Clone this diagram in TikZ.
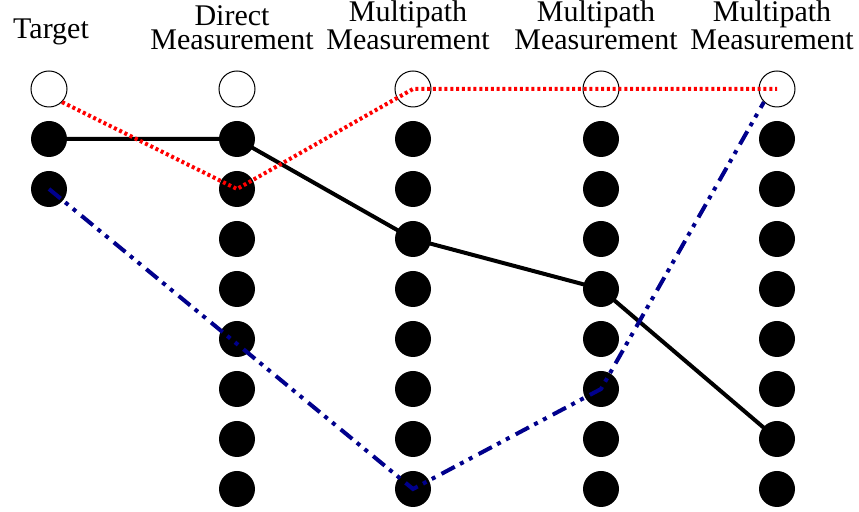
\documentclass[tikz,border=0pt]{standalone}
\usepackage{fontspec}
\setmainfont{Liberation Serif}
\usepackage{xcolor}
\usepackage{tikz}
\usetikzlibrary{shapes}

\begin{document}
\begin{tikzpicture}[x=0.5pt,y=-0.5pt]
    \definecolor{myred}{RGB}{255,0,0}
    \definecolor{mynavy}{RGB}{0,0,140}

    \fontsize{15pt}{12pt}\selectfont  % 字体大小
    \tikzstyle{openpt}=[circle,draw,line width=0.5pt,fill=white,minimum size=18pt,inner sep=0pt]  % 空心圆
    \tikzstyle{fullpt}=[circle,fill=black,minimum size=18pt,inner sep=0pt]  % 实心圆
    \tikzstyle{title}=[align=center,inner sep=0pt,anchor=south]  % 列标题
    \tikzstyle{trueline}=[line width=2pt,black,line join=round]
    \tikzstyle{redline}=[line width=2pt,myred,dash pattern=on 1.5pt off 1.4pt]
    \tikzstyle{blueline}=[line width=2pt,mynavy,dash pattern=on 7.5pt off 3pt on 2pt off 3pt on 2pt off 3.5pt]

    \useasboundingbox (0,0) rectangle (859,512);

    % 列标题
    \node[anchor=base,inner sep=0pt](ltarget) at (51,39){Target};
    \node[title](ldirect) at (232,50){Direct\\Measurement};
    \node[title](lma) at (408,50){Multipath\\Measurement};
    \node[title](lmb) at (596,50){Multipath\\Measurement};
    \node[title](lmc) at (772,50){Multipath\\Measurement};

    % 圆点
    \foreach \name/\x in {t/49,d/237,ma/413,mb/601,mc/777}
        \node[openpt](\name0) at (\x,89){};
    \foreach \r in {1,2}
        \node[fullpt](t\r) at (49,{89+50*\r}){};
    \foreach \name/\x in {d/237,ma/413,mb/601,mc/777}
        \foreach \r in {1,...,8}
            \node[fullpt](\name\r) at (\x,{89+50*\r}){};

    % 开始画线
    \draw[trueline](t1.center)--(d1.center)--(ma3.center)--(mb4.center)--(mc7.center);
    \draw[redline](t0.south east)--(d2.center)--(ma0.center)--(mb0.center)--(mc0.center);
    \draw[blueline](t2.center)--(ma8.center)--(mb6.center)--(mc0.south west);
\end{tikzpicture}
\end{document}
